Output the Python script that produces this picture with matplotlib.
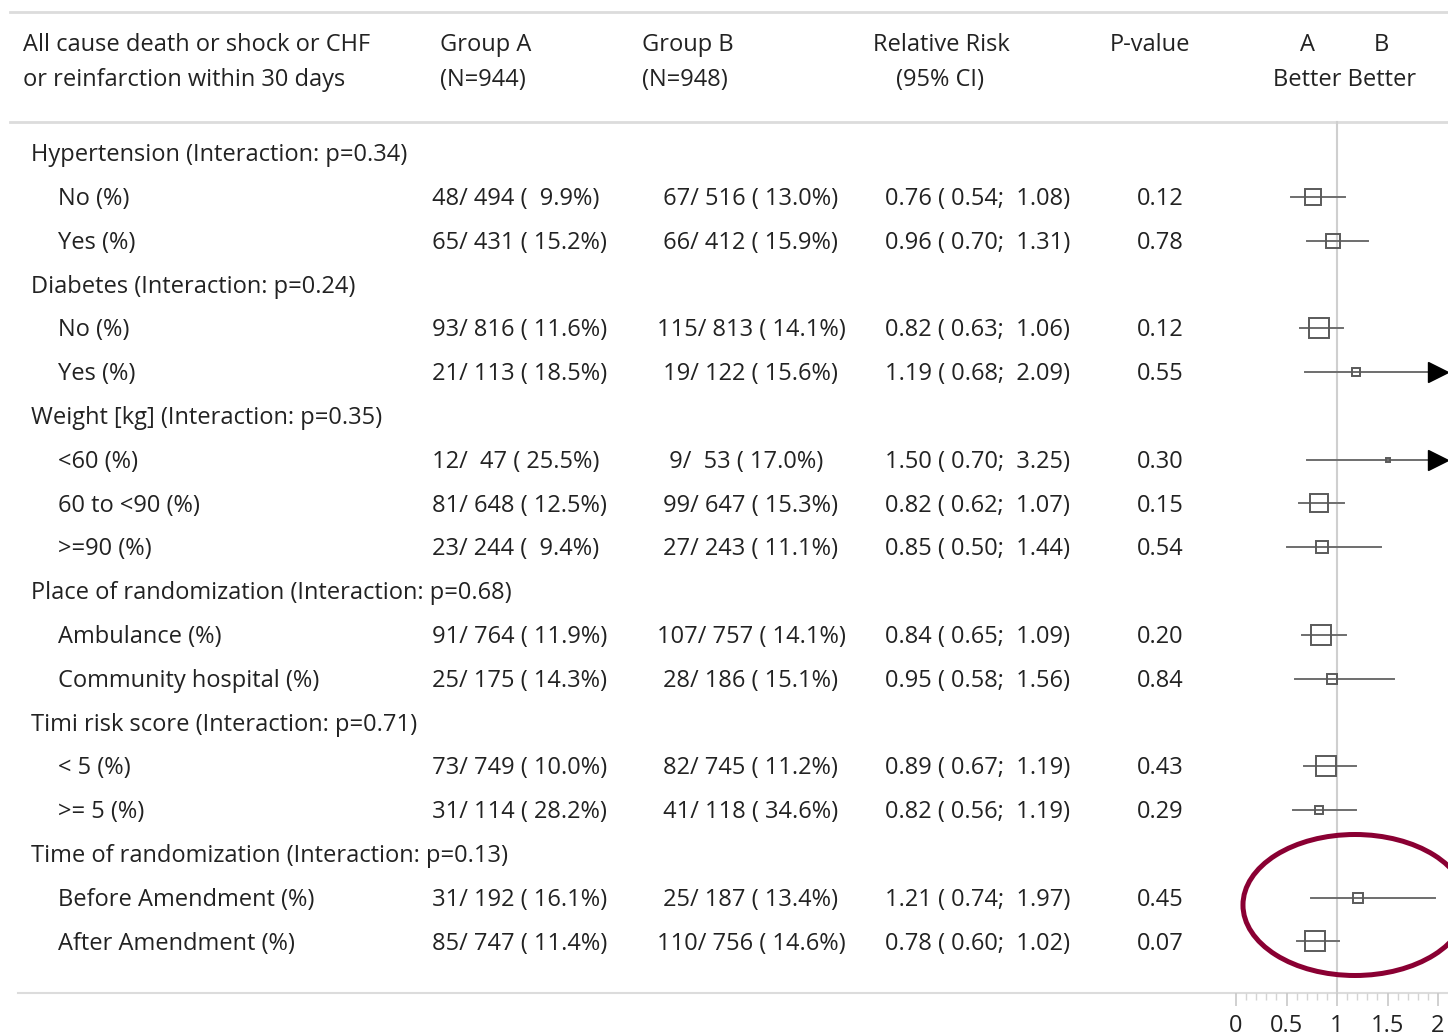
import matplotlib
matplotlib.use("Agg")
import matplotlib.pyplot as plt
from matplotlib.patches import Ellipse

plt.rcParams['font.family'] = ['Open Sans', 'DejaVu Sans']

# rows: (label, is_group_header)
labels = ["Hypertension (Interaction: p=0.34)", "No (%)", "Yes (%)",
          "Diabetes (Interaction: p=0.24)", "No (%)", "Yes (%)",
          "Weight [kg] (Interaction: p=0.35)", "<60 (%)", "60 to <90 (%)", ">=90 (%)",
          "Place of randomization (Interaction: p=0.68)", "Ambulance (%)", "Community hospital (%)",
          "Timi risk score (Interaction: p=0.71)", "< 5 (%)", ">= 5 (%)",
          "Time of randomization (Interaction: p=0.13)", "Before Amendment (%)", "After Amendment (%)"]
is_header = [True, False, False, True, False, False, True, False, False, False,
             True, False, False, True, False, False, True, False, False]

# subgroup data (only non-header rows, in order)
ev_a = [48, 65, 93, 21, 12, 81, 23, 91, 25, 73, 31, 31, 85]
n_a = [494, 431, 816, 113, 47, 648, 244, 764, 175, 749, 114, 192, 747]
pct_a = [9.9, 15.2, 11.6, 18.5, 25.5, 12.5, 9.4, 11.9, 14.3, 10.0, 28.2, 16.1, 11.4]
ev_b = [67, 66, 115, 19, 9, 99, 27, 107, 28, 82, 41, 25, 110]
n_b = [516, 412, 813, 122, 53, 647, 243, 757, 186, 745, 118, 187, 756]
pct_b = [13.0, 15.9, 14.1, 15.6, 17.0, 15.3, 11.1, 14.1, 15.1, 11.2, 34.6, 13.4, 14.6]
rr = [0.76, 0.96, 0.82, 1.19, 1.50, 0.82, 0.85, 0.84, 0.95, 0.89, 0.82, 1.21, 0.78]
rr_lo = [0.54, 0.70, 0.63, 0.68, 0.70, 0.62, 0.50, 0.65, 0.58, 0.67, 0.56, 0.74, 0.60]
rr_hi = [1.08, 1.31, 1.06, 2.09, 3.25, 1.07, 1.44, 1.09, 1.56, 1.19, 1.19, 1.97, 1.02]
pval = [0.12, 0.78, 0.12, 0.55, 0.30, 0.15, 0.54, 0.20, 0.84, 0.43, 0.29, 0.45, 0.07]

xticks = [0, 0.5, 1, 1.5, 2]
xmax_shown = 2.0

W, H = 1448, 1035
ROW0, ROWH = 153.0, 43.8   # pixel y of first row and row spacing


def row_of(px):
    return (px - ROW0) / ROWH


fig = plt.figure(figsize=(W / 100, H / 100), dpi=100)
ax = fig.add_axes([0, 0, 1, 1])
ax.set_xlim(0, W)
ax.set_ylim(row_of(H), row_of(0))
ax.axis("off")

txt = "#222222"
fs = 17
dy = 0.05  # small nudge so text sits like the original

# header
ax.text(23, row_of(43) + dy, "All cause death or shock or CHF", fontsize=fs, color=txt, va="center")
ax.text(23, row_of(78) + dy, "or reinfarction within 30 days", fontsize=fs, color=txt, va="center")
ax.text(440, row_of(43) + dy, "Group A", fontsize=fs, color=txt, va="center")
ax.text(440, row_of(78) + dy, "(N=944)", fontsize=fs, color=txt, va="center")
ax.text(642, row_of(43) + dy, "Group B", fontsize=fs, color=txt, va="center")
ax.text(642, row_of(78) + dy, "(N=948)", fontsize=fs, color=txt, va="center")
ax.text(941, row_of(43) + dy, "Relative Risk", fontsize=fs, color=txt, va="center", ha="center")
ax.text(940, row_of(78) + dy, "(95% CI)", fontsize=fs, color=txt, va="center", ha="center")
ax.text(1150, row_of(43) + dy, "P-value", fontsize=fs, color=txt, va="center", ha="center")
ax.text(1308, row_of(43) + dy, "A", fontsize=fs, color=txt, va="center", ha="center")
ax.text(1381, row_of(43) + dy, "B", fontsize=fs, color=txt, va="center", ha="center")
ax.text(1345, row_of(78) + dy, "Better Better", fontsize=fs, color=txt, va="center", ha="center")

# table rules
rule = "#dcdcdc"
ax.plot([10, W], [row_of(12)] * 2, color=rule, lw=2)
ax.plot([10, W], [row_of(122)] * 2, color=rule, lw=2)
ax.plot([18, W], [row_of(993)] * 2, color=rule, lw=1.5)

# forest axes
x0_px, unit_px = 1236, 101
left_px = 1185
fax = fig.add_axes([left_px / W, (H - 993) / H, (W - left_px) / W, 993 / H])
fax.set_xlim((left_px - x0_px) / unit_px, (W - x0_px) / unit_px)
fax.set_ylim(row_of(993), row_of(0))
fax.patch.set_alpha(0)
for s in fax.spines.values():
    s.set_visible(False)
fax.set_yticks([])
fax.set_xticks(xticks)
fax.set_xticklabels(["0", "0.5", "1", "1.5", "2"])
fax.set_xticks([i / 10 for i in range(21)], minor=True)
fax.tick_params(axis="x", which="major", length=9, width=1.2, color="#c8c8c8",
                labelsize=fs, labelcolor=txt, pad=6)
fax.tick_params(axis="x", which="minor", length=5, width=1, color="#d4d4d4")
fax.plot([1, 1], [row_of(122), row_of(993)], color="#cfcfcf", lw=1.5, zorder=1)

k = 0
for i, lab in enumerate(labels):
    if is_header[i]:
        ax.text(31, i + dy, lab, fontsize=fs, color=txt, va="center")
        continue
    ax.text(58, i + dy, lab, fontsize=fs, color=txt, va="center")
    ax.text(426, i + dy, f"{ev_a[k]:3d}/{n_a[k]:4d} ({pct_a[k]:5.1f}%)", fontsize=fs, color=txt, va="center")
    ax.text(657, i + dy, f"{ev_b[k]:3d}/{n_b[k]:4d} ({pct_b[k]:5.1f}%)", fontsize=fs, color=txt, va="center")
    ax.text(885, i + dy, f"{rr[k]:.2f} ({rr_lo[k]:5.2f}; {rr_hi[k]:5.2f})", fontsize=fs, color=txt, va="center")
    ax.text(1160, i + dy, f"{pval[k]:.2f}", fontsize=fs, color=txt, va="center", ha="center")

    hi = min(rr_hi[k], xmax_shown)
    fax.plot([rr_lo[k], hi], [i, i], color="#6e6e6e", lw=1.4, zorder=2)
    if rr_hi[k] > xmax_shown:
        fax.plot(xmax_shown, i, marker=">", ms=15, color="black", zorder=3, clip_on=False)
    side = 0.36 * (n_a[k] + n_b[k]) ** 0.5
    fax.plot(rr[k], i, marker="s", ms=side, mfc="none", mec="#5a5a5a", mew=1.4, zorder=3)
    k += 1

# highlight ellipse
ell = Ellipse((1.178, row_of(905)), 224 / unit_px, 141 / ROWH, fill=False,
              ec="#8a0033", lw=3.6, zorder=4, clip_on=False)
fax.add_patch(ell)

fig.savefig("out.png", dpi=100)
